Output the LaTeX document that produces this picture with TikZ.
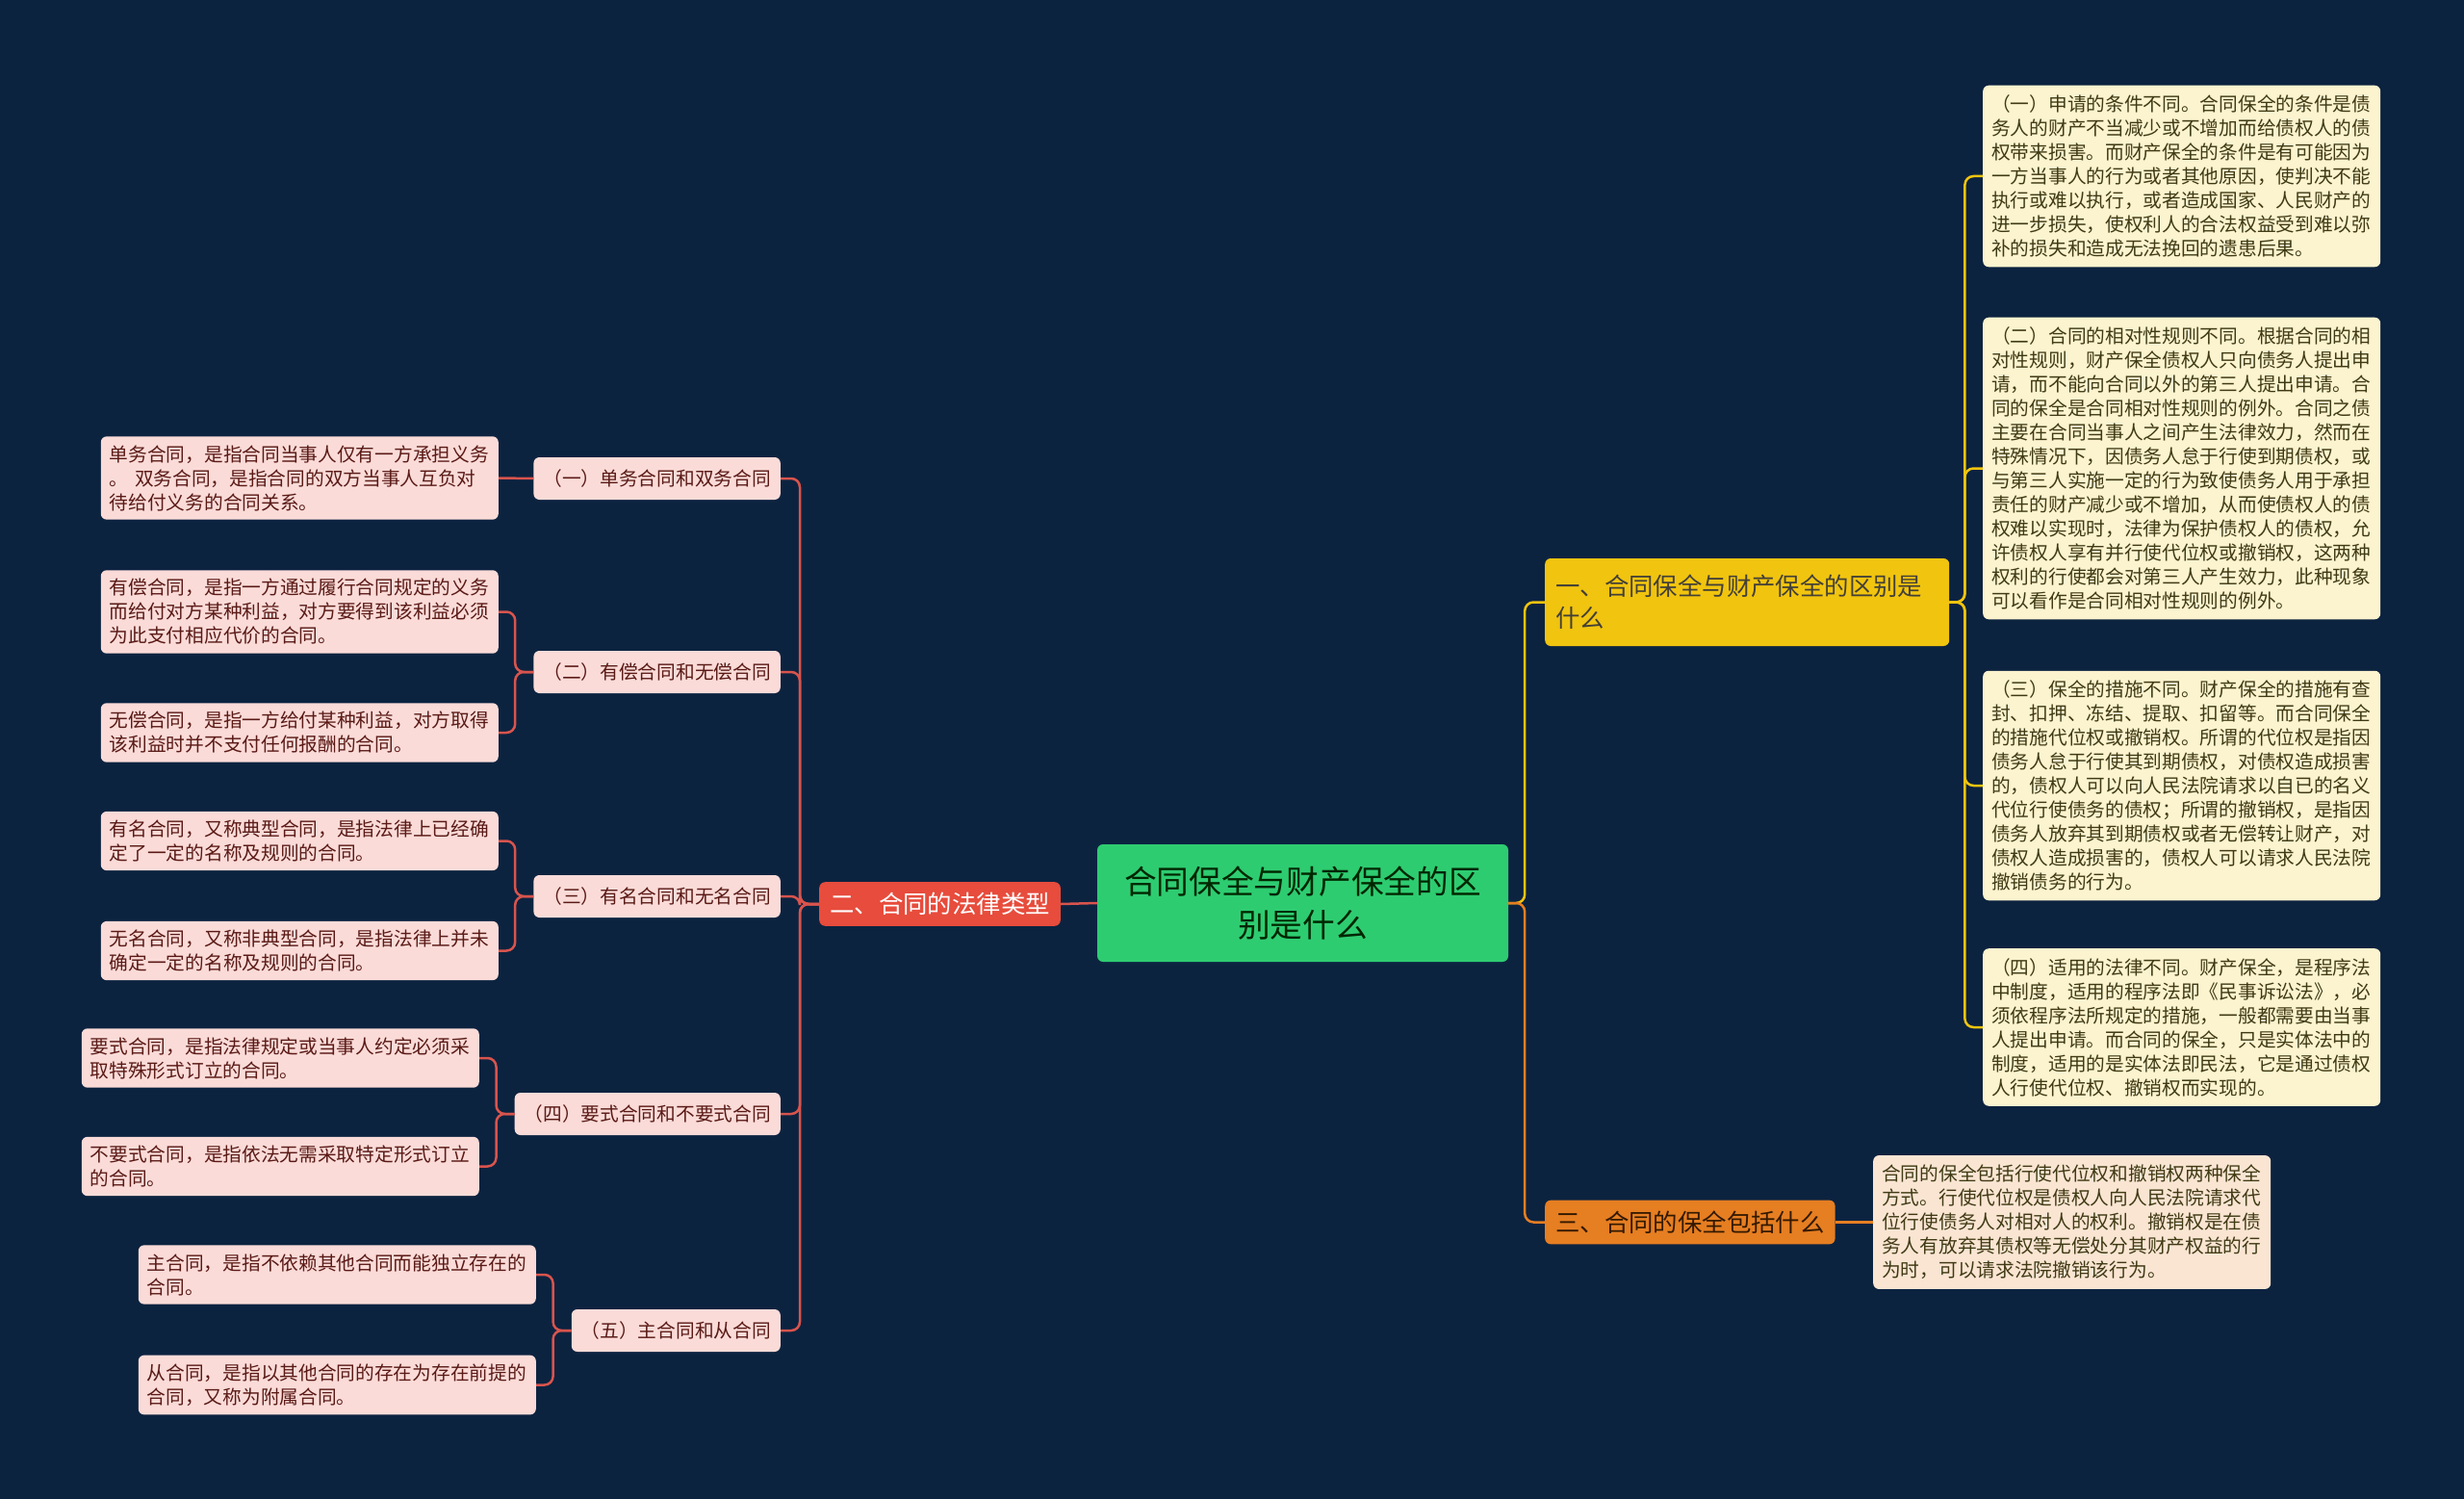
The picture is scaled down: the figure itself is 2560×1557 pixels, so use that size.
\documentclass[tikz,border=0pt]{standalone}
\usepackage{fontspec}
\setmainfont{Noto Sans CJK SC}
\definecolor{navybg}{HTML}{0C2340}
\definecolor{coregreen}{HTML}{2ECC71}
\definecolor{redmain}{HTML}{E74C3C}
\definecolor{yellowmain}{HTML}{F1C40F}
\definecolor{orangemain}{HTML}{E67E22}
\definecolor{pinkleaf}{HTML}{FADBD8}
\definecolor{creamleaf}{HTML}{FCF3CF}
\definecolor{peachleaf}{HTML}{FAE5D3}
\definecolor{redline}{HTML}{D9544D}
\definecolor{redtext}{HTML}{5A1A16}
\definecolor{browntext}{HTML}{3F3A14}
\newcommand\leaffont{\fontsize{19.7}{25}\selectfont}
\newcommand\mainfont{\fontsize{25.4}{33}\selectfont}
\newcommand\corefont{\fontsize{33.7}{45}\selectfont}
\begin{document}
\begin{tikzpicture}[
  x=1pt, y=-1pt,
  every node/.style={rounded corners=6pt, inner sep=0pt},
  core/.style={fill=coregreen, text=black!75!green!60!black, font=\corefont,
    align=center, minimum width=427pt, minimum height=122pt},
  mainbox/.style={font=\mainfont, inner xsep=11pt, inner ysep=11pt},
  subbox/.style={fill=pinkleaf, text=redtext, font=\leaffont, inner xsep=10pt,
    minimum height=44pt, anchor=east},
  leftleaf/.style={fill=pinkleaf, text=redtext, font=\leaffont, text width=395pt,
    align=left, inner xsep=9pt, inner ysep=9pt, anchor=east},
  rightleaf/.style={fill=creamleaf, text=browntext, font=\leaffont, text width=395pt,
    align=left, inner xsep=9pt, inner ysep=10pt, anchor=west},
  redlink/.style={draw=redline, line width=2.5pt, rounded corners=9pt},
  yellowlink/.style={draw=yellowmain, line width=2.5pt, rounded corners=9pt},
  orangelink/.style={draw=orangemain, line width=2.5pt, rounded corners=9pt}
]
\useasboundingbox[fill=navybg] (0,0) rectangle (2560,1557);

\node[core] (core) at (1353.5,938) {合同保全与财产保全的区\\别是什么};
\node[mainbox, fill=redmain, text=white, anchor=east] (types) at (1102,939) {二、合同的法律类型};
\node[mainbox, fill=yellowmain, text=black!85!yellow, text width=398pt, align=left,
  minimum height=91pt, anchor=west] (diff) at (1605,625.5) {一、合同保全与财产保全的区别是\\什么};
\node[mainbox, fill=orangemain, text=black!80!orange, anchor=west] (incl) at (1605,1269.5) {三、合同的保全包括什么};

\node[rightleaf] (d1) at (2060,183) {（一）申请的条件不同。合同保全的条件是债\\务人的财产不当减少或不增加而给债权人的债\\权带来损害。而财产保全的条件是有可能因为\\一方当事人的行为或者其他原因，使判决不能\\执行或难以执行，或者造成国家、人民财产的\\进一步损失，使权利人的合法权益受到难以弥\\补的损失和造成无法挽回的遗患后果。};
\node[rightleaf] (d2) at (2060,486.5) {（二）合同的相对性规则不同。根据合同的相\\对性规则，财产保全债权人只向债务人提出申\\请，而不能向合同以外的第三人提出申请。合\\同的保全是合同相对性规则的例外。合同之债\\主要在合同当事人之间产生法律效力，然而在\\特殊情况下，因债务人怠于行使到期债权，或\\与第三人实施一定的行为致使债务人用于承担\\责任的财产减少或不增加，从而使债权人的债\\权难以实现时，法律为保护债权人的债权，允\\许债权人享有并行使代位权或撤销权，这两种\\权利的行使都会对第三人产生效力，此种现象\\可以看作是合同相对性规则的例外。};
\node[rightleaf] (d3) at (2060,816) {（三）保全的措施不同。财产保全的措施有查\\封、扣押、冻结、提取、扣留等。而合同保全\\的措施代位权或撤销权。所谓的代位权是指因\\债务人怠于行使其到期债权，对债权造成损害\\的，债权人可以向人民法院请求以自已的名义\\代位行使债务的债权；所谓的撤销权，是指因\\债务人放弃其到期债权或者无偿转让财产，对\\债权人造成损害的，债权人可以请求人民法院\\撤销债务的行为。};
\node[rightleaf] (d4) at (2060,1067) {（四）适用的法律不同。财产保全，是程序法\\中制度，适用的程序法即《民事诉讼法》，必\\须依程序法所规定的措施，一般都需要由当事\\人提出申请。而合同的保全，只是实体法中的\\制度，适用的是实体法即民法，它是通过债权\\人行使代位权、撤销权而实现的。};
\node[rightleaf, fill=peachleaf] (incldet) at (1946,1269.5) {合同的保全包括行使代位权和撤销权两种保全\\方式。行使代位权是债权人向人民法院请求代\\位行使债务人对相对人的权利。撤销权是在债\\务人有放弃其债权等无偿处分其财产权益的行\\为时，可以请求法院撤销该行为。};

\node[subbox] (t1) at (811,497) {（一）单务合同和双务合同};
\node[subbox] (t2) at (811,698) {（二）有偿合同和无偿合同};
\node[subbox] (t3) at (811,931) {（三）有名合同和无名合同};
\node[subbox] (t4) at (811,1157) {（四）要式合同和不要式合同};
\node[subbox] (t5) at (811,1382) {（五）主合同和从合同};

\node[leftleaf] (t1a) at (518,496.5) {单务合同，是指合同当事人仅有一方承担义务\\。 双务合同，是指合同的双方当事人互负对\\待给付义务的合同关系。};
\node[leftleaf] (t2a) at (518,635.5) {有偿合同，是指一方通过履行合同规定的义务\\而给付对方某种利益，对方要得到该利益必须\\为此支付相应代价的合同。};
\node[leftleaf] (t2b) at (518,761) {无偿合同，是指一方给付某种利益，对方取得\\该利益时并不支付任何报酬的合同。};
\node[leftleaf] (t3a) at (518,873.5) {有名合同，又称典型合同，是指法律上已经确\\定了一定的名称及规则的合同。};
\node[leftleaf] (t3b) at (518,987.5) {无名合同，又称非典型合同，是指法律上并未\\确定一定的名称及规则的合同。};
\node[leftleaf] (t4a) at (498,1099) {要式合同，是指法律规定或当事人约定必须采\\取特殊形式订立的合同。};
\node[leftleaf] (t4b) at (498,1211.5) {不要式合同，是指依法无需采取特定形式订立\\的合同。};
\node[leftleaf] (t5a) at (557,1324) {主合同，是指不依赖其他合同而能独立存在的\\合同。};
\node[leftleaf] (t5b) at (557,1438.5) {从合同，是指以其他合同的存在为存在前提的\\合同，又称为附属合同。};

\draw[redlink] (core.west) -- (types.east);
\draw[yellowlink] (core.east) -- ++(17,0) |- (diff.west);
\draw[orangelink] (core.east) -- ++(17,0) |- (incl.west);
\foreach \i in {1,...,4}
  \draw[yellowlink] (diff.east) -- ++(16,0) |- (d\i.west);
\draw[orangelink] (incl.east) -- (incldet.west);
\foreach \i in {1,...,5}
  \draw[redlink] (types.west) -- ++(-20,0) |- (t\i.east);
\draw[redlink] (t1.west) -- (t1a.east);
\foreach \i in {2,...,5} {
  \draw[redlink] (t\i.west) -- ++(-19,0) |- (t\i a.east);
  \draw[redlink] (t\i.west) -- ++(-19,0) |- (t\i b.east);
}
\end{tikzpicture}
\end{document}
